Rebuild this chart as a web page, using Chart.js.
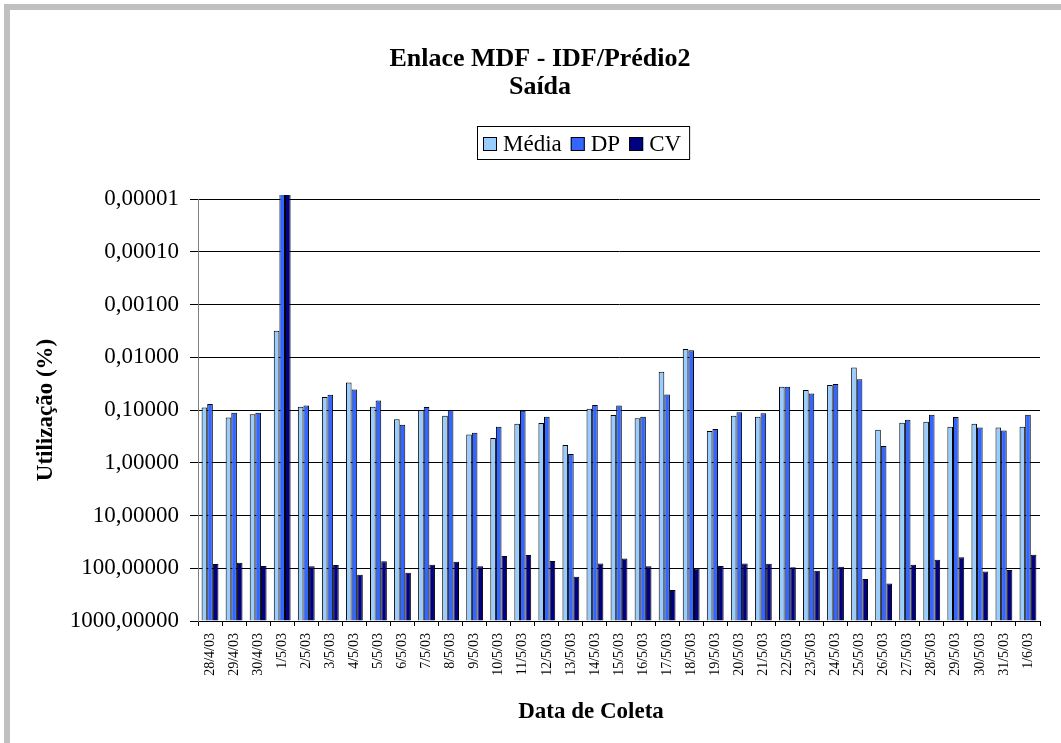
<!DOCTYPE html>
<html lang="pt-BR">
<head>
<meta charset="UTF-8">
<title>Enlace MDF - IDF/Prédio2 - Saída</title>
<script src="https://cdn.jsdelivr.net/npm/chart.js"></script>
<style>
  html, body { margin: 0; padding: 0; background: #fff; overflow: hidden; }
  /* moldura cinza do gráfico (só topo e esquerda aparecem) */
  .moldura { position: absolute; left: 4px; top: 4px; width: 1100px; height: 800px;
             border-top: 6px solid #c0c0c0; border-left: 6px solid #c0c0c0; }
  #grafico { position: absolute; left: 0; top: 0; }
</style>
</head>
<body>
<div class="moldura"></div>
<canvas id="grafico" width="1061" height="743"></canvas>
<script>
  // datas de coleta
  const datas = ['28/4/03','29/4/03','30/4/03','1/5/03','2/5/03','3/5/03','4/5/03','5/5/03','6/5/03',
                 '7/5/03','8/5/03','9/5/03','10/5/03','11/5/03','12/5/03','13/5/03','14/5/03','15/5/03',
                 '16/5/03','17/5/03','18/5/03','19/5/03','20/5/03','21/5/03','22/5/03','23/5/03','24/5/03',
                 '25/5/03','26/5/03','27/5/03','28/5/03','29/5/03','30/5/03','31/5/03','1/6/03'];

  // utilização (%) por dia
  const media = [0.0895, 0.138, 0.12, 0.00315, 0.0867, 0.0569, 0.030, 0.0867, 0.149,
                 0.10, 0.128, 0.29, 0.34, 0.182, 0.177, 0.46, 0.095, 0.125,
                 0.143, 0.0188, 0.0070, 0.251, 0.128, 0.134, 0.0362, 0.0419, 0.0336,
                 0.0156, 0.237, 0.174, 0.167, 0.208, 0.182, 0.214, 0.208];
  const dp    = [0.077, 0.113, 0.113, 0.000001, 0.082, 0.0514, 0.041, 0.066, 0.19,
                 0.088, 0.10, 0.27, 0.208, 0.103, 0.134, 0.68, 0.08, 0.082,
                 0.134, 0.0506, 0.0074, 0.23, 0.11, 0.115, 0.0362, 0.0485, 0.0322,
                 0.026, 0.48, 0.153, 0.123, 0.136, 0.214, 0.244, 0.123];
  const cv    = [83, 79, 91, 0.000001, 92, 87, 133, 74, 122,
                 86, 75, 92, 58.7, 56, 73, 145, 81, 65,
                 92, 259, 101, 91, 81, 82, 96, 111, 94,
                 160, 194, 86, 69, 62, 115, 108, 55.5];

  // marcas do eixo Y (escala log invertida)
  const escalaY = [0.00001, 0.0001, 0.001, 0.01, 0.1, 1, 10, 100, 1000];

  const titulo  = ['Enlace MDF - IDF/Prédio2', 'Saída'];
  const tituloX = 'Data de Coleta';
  const tituloY = 'Utilização (%)';

  const fonte = '"Liberation Serif", "Times New Roman", serif';

  // título, legenda com moldura e título do eixo X
  const anotacoes = {
    id: 'anotacoes',
    afterDraw(chart) {
      const ctx = chart.ctx;
      ctx.save();
      ctx.fillStyle = '#000';
      ctx.textAlign = 'center';
      ctx.textBaseline = 'alphabetic';
      ctx.font = 'bold 26px ' + fonte;
      titulo.forEach((t, i) => ctx.fillText(t, 540, 66 + i * 28));

      // legenda
      ctx.font = '23px ' + fonte;
      ctx.textAlign = 'left';
      ctx.strokeStyle = '#000';
      ctx.lineWidth = 1;
      let x = 483;
      chart.data.datasets.forEach(ds => {
        ctx.fillStyle = ds.backgroundColor;
        ctx.fillRect(x, 137, 14, 14);
        ctx.strokeRect(x + 0.5, 137.5, 13, 13);
        x += 20;
        ctx.fillStyle = '#000';
        ctx.fillText(ds.label, x, 151);
        x += ctx.measureText(ds.label).width + 9;
      });
      ctx.strokeRect(477.5, 126.5, x - 1 - 477, 33);

      ctx.font = 'bold 23px ' + fonte;
      ctx.textAlign = 'center';
      ctx.textBaseline = 'middle';
      ctx.fillText(tituloX, 591, 712);
      ctx.restore();
    }
  };

  new Chart(document.getElementById('grafico'), {
    type: 'bar',
    data: {
      labels: datas,
      datasets: [
        { label: 'Média', data: media, backgroundColor: '#99CCFF' },
        { label: 'DP',    data: dp,    backgroundColor: '#3366FF' },
        { label: 'CV',    data: cv,    backgroundColor: '#000080' }
      ]
    },
    options: {
      responsive: false,
      animation: false,
      layout: { padding: { top: 199, left: 10, right: 21, bottom: 0 } },
      datasets: {
        bar: {
          base: 1000,
          borderColor: '#000',
          borderWidth: 1,
          categoryPercentage: 0.7,
          barPercentage: 1,
          clip: { left: 0, top: 4, right: 0, bottom: 0 }
        }
      },
      plugins: { legend: { display: false }, tooltip: { enabled: false } },
      scales: {
        x: {
          afterFit(s) { s.height = 122; },
          grid: { offset: true, drawOnChartArea: false, tickLength: 5, color: '#000' },
          border: { color: '#000' },
          ticks: { minRotation: 90, maxRotation: 90, autoSkip: false, padding: 7, color: '#000',
                   font: { family: fonte, size: 14 } }
        },
        y: {
          type: 'logarithmic',
          reverse: true,
          min: 0.00001,
          max: 1000,
          afterFit(s) { s.width = 188; },
          afterBuildTicks(s) { s.ticks = escalaY.map(v => ({ value: v })); },
          grid: { color: '#000', tickLength: 8 },
          border: { color: '#808080' },
          ticks: { padding: 11, color: '#000', font: { family: fonte, size: 23 },
                   callback: v => v.toFixed(5).replace('.', ',') },
          title: { display: true, text: tituloY, color: '#000',
                   font: { family: fonte, size: 23, weight: 'bold' }, padding: { top: 22, bottom: 0 } }
        }
      }
    },
    plugins: [anotacoes]
  });
</script>
</body>
</html>
